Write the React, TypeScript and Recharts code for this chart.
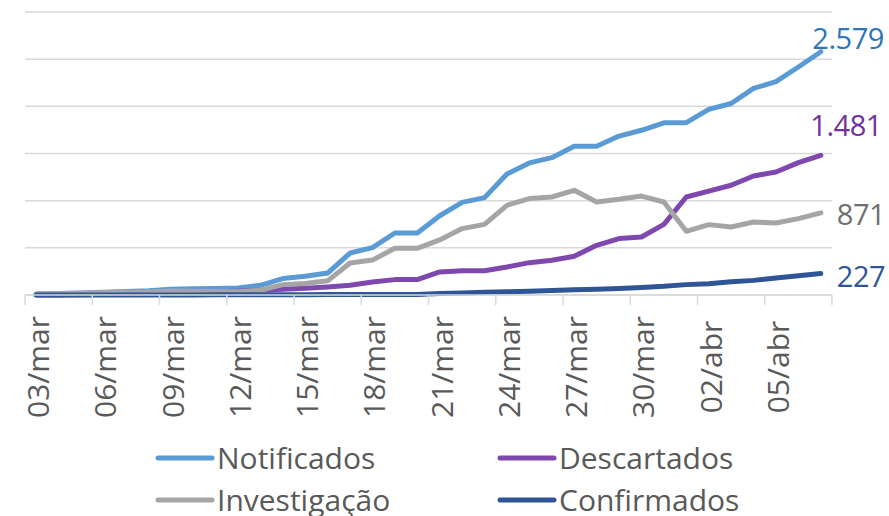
import { LineChart, Line, XAxis, YAxis, CartesianGrid, LabelList } from 'recharts';

const dates = [
  '03/mar', '04/mar', '05/mar', '06/mar', '07/mar', '08/mar', '09/mar', '10/mar', '11/mar',
  '12/mar', '13/mar', '14/mar', '15/mar', '16/mar', '17/mar', '18/mar', '19/mar', '20/mar',
  '21/mar', '22/mar', '23/mar', '24/mar', '25/mar', '26/mar', '27/mar', '28/mar', '29/mar',
  '30/mar', '31/mar', '01/abr', '02/abr', '03/abr', '04/abr', '05/abr', '06/abr', '07/abr',
];

const notificados = [
  10, 15, 20, 30, 38, 45, 60, 65, 68, 75, 103, 174, 198, 233, 445, 502, 657, 657,
  840, 982, 1032, 1283, 1400, 1456, 1576, 1576, 1685, 1746, 1825, 1827, 1968, 2030, 2190, 2262, 2417, 2579,
];
const descartados = [
  0, 0, 2, 4, 8, 12, 18, 24, 30, 40, 50, 62, 72, 85, 103, 138, 163, 163,
  244, 258, 258, 297, 343, 368, 410, 527, 598, 615, 749, 1039, 1102, 1163, 1261, 1304, 1403, 1481,
];
const investigacao = [
  10, 15, 18, 26, 30, 33, 42, 41, 38, 35, 50, 110, 123, 150, 340, 370, 495, 495,
  584, 704, 749, 951, 1022, 1039, 1110, 986, 1014, 1049, 986, 675, 746, 721, 774, 763, 810, 871,
];
const confirmados = [
  0, 0, 0, 0, 0, 1, 1, 1, 2, 2, 3, 3, 3, 4, 5, 5, 6, 6,
  15, 22, 28, 35, 40, 48, 56, 62, 70, 80, 92, 110, 120, 140, 155, 180, 205, 227,
];
const yTicks = [0, 500, 1000, 1500, 2000, 2500, 3000];

const data = dates.map((d, i) => ({
  date: d,
  notificados: notificados[i],
  descartados: descartados[i],
  investigacao: investigacao[i],
  confirmados: confirmados[i],
}));

const FONT = '"Open Sans", "Noto Sans", sans-serif';
const TEXT = '#595959';
const GRID = '#d9d9d9';
const HALF = 11.2;
const LAST = dates.length - 1;

const series = [
  { key: 'notificados', name: 'Notificados', color: '#5b9bd5', label: '#2e75b6', dx: 63, dy: -3, anchor: 'end' },
  { key: 'descartados', name: 'Descartados', color: '#7e48ae', label: '#7030a0', dx: 61, dy: -19, anchor: 'end' },
  { key: 'investigacao', name: 'Investigação', color: '#a5a5a5', label: '#6f6f6f', dx: 16, dy: 12, anchor: 'start' },
  { key: 'confirmados', name: 'Confirmados', color: '#2f5597', label: '#2f5597', dx: 16, dy: 13, anchor: 'start' },
];

const fmt = (v: number) => String(v).replace(/\B(?=(\d{3})+(?!\d))/g, '.');

function DateTick(props: any) {
  const { x, y, payload } = props;
  const tx = x + 13;
  const ty = y + 72;
  return (
    <g>
      <line x1={x - HALF} y1={y} x2={x - HALF} y2={y + 10} stroke={GRID} strokeWidth={1.5} />
      {payload.value === '05/abr' && (
        <line x1={x + HALF * 5} y1={y} x2={x + HALF * 5} y2={y + 10} stroke={GRID} strokeWidth={1.5} />
      )}
      <text
        x={tx}
        y={ty}
        transform={`rotate(-90, ${tx}, ${ty})`}
        textAnchor="middle"
        fill={TEXT}
        fontSize={30}
        fontFamily={FONT}
      >
        {payload.value}
      </text>
    </g>
  );
}

function endLabel(s: (typeof series)[number]) {
  return (props: any) => {
    const { x, y, value, index } = props;
    if (index !== LAST) return null;
    return (
      <text
        x={x + s.dx}
        y={y + s.dy}
        textAnchor={s.anchor as any}
        fill={s.label}
        fontSize={29}
        fontFamily={FONT}
        letterSpacing={-0.5}
      >
        {fmt(value)}
      </text>
    );
  };
}

function LegendItem({ name, color }: { name: string; color: string }) {
  return (
    <div style={{ display: 'flex', alignItems: 'center', height: 42 }}>
      <svg width={60} height={10} style={{ marginRight: 2 }}>
        <line x1={3} y1={5} x2={57} y2={5} stroke={color} strokeWidth={5} strokeLinecap="round" />
      </svg>
      <span style={{ fontSize: 30, color: TEXT, fontFamily: FONT, lineHeight: '42px' }}>{name}</span>
    </div>
  );
}

export default function App() {
  return (
    <div
      style={{
        position: 'absolute',
        left: 0,
        top: 0,
        width: 889,
        height: 516,
        overflow: 'hidden',
        background: '#fff',
      }}
    >
      <LineChart width={889} height={516} data={data} margin={{ top: 12, right: 57, left: 25, bottom: 0 }}>
        <CartesianGrid vertical={false} stroke={GRID} strokeWidth={1.5} />
        <YAxis hide domain={[0, 3000]} ticks={yTicks} />
        <XAxis
          dataKey="date"
          interval={2}
          height={221}
          tickLine={false}
          tickSize={0}
          tickMargin={0}
          padding={{ left: HALF, right: HALF }}
          axisLine={{ stroke: GRID, strokeWidth: 1.5 }}
          tick={<DateTick />}
        />
        {series.map((s) => (
          <Line
            key={s.key}
            dataKey={s.key}
            name={s.name}
            stroke={s.color}
            strokeWidth={5}
            strokeLinecap="round"
            strokeLinejoin="round"
            dot={false}
            isAnimationActive={false}
          >
            <LabelList dataKey={s.key} content={endLabel(s)} />
          </Line>
        ))}
      </LineChart>
      <div style={{ position: 'absolute', left: 155, top: 437, width: 700 }}>
        <div style={{ display: 'flex' }}>
          <div style={{ width: 342 }}>
            <LegendItem name={series[0].name} color={series[0].color} />
          </div>
          <LegendItem name={series[1].name} color={series[1].color} />
        </div>
        <div style={{ display: 'flex' }}>
          <div style={{ width: 342 }}>
            <LegendItem name={series[2].name} color={series[2].color} />
          </div>
          <LegendItem name={series[3].name} color={series[3].color} />
        </div>
      </div>
    </div>
  );
}
